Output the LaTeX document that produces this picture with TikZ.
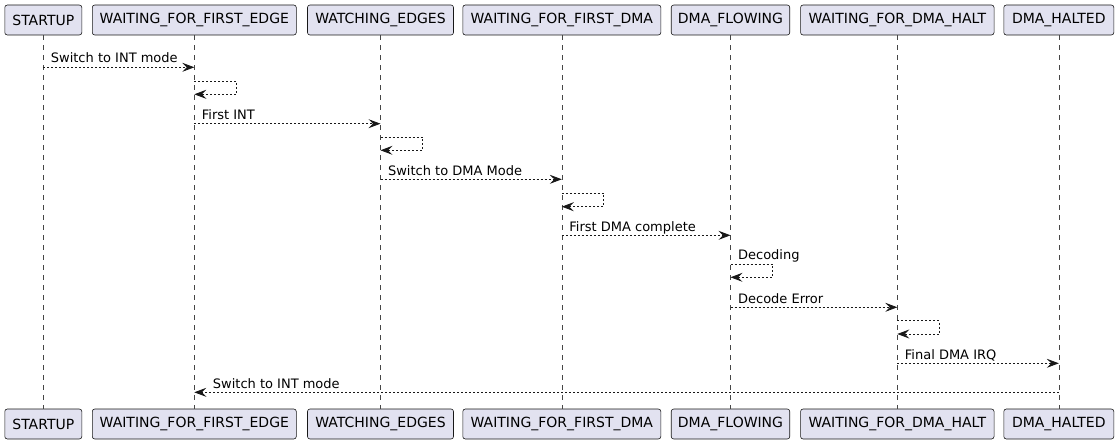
\documentclass[tikz,border=0pt]{standalone}
\usepackage{fontspec}
\setmainfont{DejaVu Sans}
\usetikzlibrary{arrows.meta}
\definecolor{pbox}{HTML}{E2E2F0}
\definecolor{pline}{HTML}{181818}
\tikzset{
  part/.style={draw=pline, fill=pbox, line width=0.6pt, rounded corners=2.5pt,
    minimum height=30pt, inner sep=0pt, font=\fontsize{14}{16}\selectfont, text=black},
  life/.style={draw=pline!80, line width=0.5pt, dash pattern=on 5pt off 5pt},
  msg/.style={draw=pline, line width=0.8pt, dash pattern=on 2pt off 2pt,
    -{Stealth[length=12pt,width=9pt,inset=4.5pt,fill=pline]}},
  lbl/.style={anchor=base west, inner sep=0pt, font=\fontsize{13}{15}\selectfont, text=black}
}
\begin{document}
\begin{tikzpicture}[x=1pt,y=-1pt]
\useasboundingbox (0,0) rectangle (1119,444);
% top participants
\node[part, minimum width=77pt]  (tS) at (43.3,20) {STARTUP};
\node[part, minimum width=204pt] (tA) at (194.3,20) {WAITING\_FOR\_FIRST\_EDGE};
\node[part, minimum width=146pt] (tB) at (380.5,20) {WATCHING\_EDGES};
\node[part, minimum width=198pt] (tC) at (561.8,20) {WAITING\_FOR\_FIRST\_DMA};
\node[part, minimum width=118.5pt] (tD) at (730.5,20) {DMA\_FLOWING};
\node[part, minimum width=193.5pt] (tE) at (897.3,20) {WAITING\_FOR\_DMA\_HALT};
\node[part, minimum width=110pt] (tF) at (1058.8,20) {DMA\_HALTED};
% bottom participants
\node[part, minimum width=77pt]  (bS) at (43.3,424) {STARTUP};
\node[part, minimum width=204pt] (bA) at (194.3,424) {WAITING\_FOR\_FIRST\_EDGE};
\node[part, minimum width=146pt] (bB) at (380.5,424) {WATCHING\_EDGES};
\node[part, minimum width=198pt] (bC) at (561.8,424) {WAITING\_FOR\_FIRST\_DMA};
\node[part, minimum width=118.5pt] (bD) at (730.5,424) {DMA\_FLOWING};
\node[part, minimum width=193.5pt] (bE) at (897.3,424) {WAITING\_FOR\_DMA\_HALT};
\node[part, minimum width=110pt] (bF) at (1058.8,424) {DMA\_HALTED};
% lifelines
\foreach \p in {S,A,B,C,D,E,F}{
  \draw[life] (t\p.south) -- (b\p.north);
}
% row coordinates
\coordinate (r1) at (0,67.3);
\coordinate (r2) at (0,81);   \coordinate (r2b) at (0,94.3);
\coordinate (r3) at (0,123.7);
\coordinate (r4) at (0,137);  \coordinate (r4b) at (0,150.3);
\coordinate (r5) at (0,179.3);
\coordinate (r6) at (0,193.3); \coordinate (r6b) at (0,206.7);
\coordinate (r7) at (0,235.3);
\coordinate (r8) at (0,264);  \coordinate (r8b) at (0,277.3);
\coordinate (r9) at (0,307.3);
\coordinate (r10) at (0,320.7); \coordinate (r10b) at (0,334);
\coordinate (r11) at (0,363.3);
\coordinate (r12) at (0,392.3);
% messages
\draw[msg] (tS |- r1) -- (tA |- r1);
\node[lbl] at ([xshift=7.4pt,yshift=4.3pt]tS |- r1) {Switch to INT mode};
\draw[msg] (tA |- r2) -- ++(42,0) |- (tA |- r2b);
\draw[msg] (tA |- r3) -- (tB |- r3);
\node[lbl] at ([xshift=7.4pt,yshift=4.3pt]tA |- r3) {First INT};
\draw[msg] (tB |- r4) -- ++(42,0) |- (tB |- r4b);
\draw[msg] (tB |- r5) -- (tC |- r5);
\node[lbl] at ([xshift=7.4pt,yshift=4.3pt]tB |- r5) {Switch to DMA Mode};
\draw[msg] (tC |- r6) -- ++(42,0) |- (tC |- r6b);
\draw[msg] (tC |- r7) -- (tD |- r7);
\node[lbl] at ([xshift=7.4pt,yshift=4.3pt]tC |- r7) {First DMA complete};
\draw[msg] (tD |- r8) -- ++(42,0) |- (tD |- r8b);
\node[lbl] at ([xshift=7.4pt,yshift=4.3pt]tD |- r8) {Decoding};
\draw[msg] (tD |- r9) -- (tE |- r9);
\node[lbl] at ([xshift=7.4pt,yshift=4.3pt]tD |- r9) {Decode Error};
\draw[msg] (tE |- r10) -- ++(42,0) |- (tE |- r10b);
\draw[msg] (tE |- r11) -- (tF |- r11);
\node[lbl] at ([xshift=7.4pt,yshift=4.3pt]tE |- r11) {Final DMA IRQ};
\draw[msg] (tF |- r12) -- (tA |- r12);
\node[lbl] at ([xshift=18.4pt,yshift=4.3pt]tA |- r12) {Switch to INT mode};
\end{tikzpicture}
\end{document}
